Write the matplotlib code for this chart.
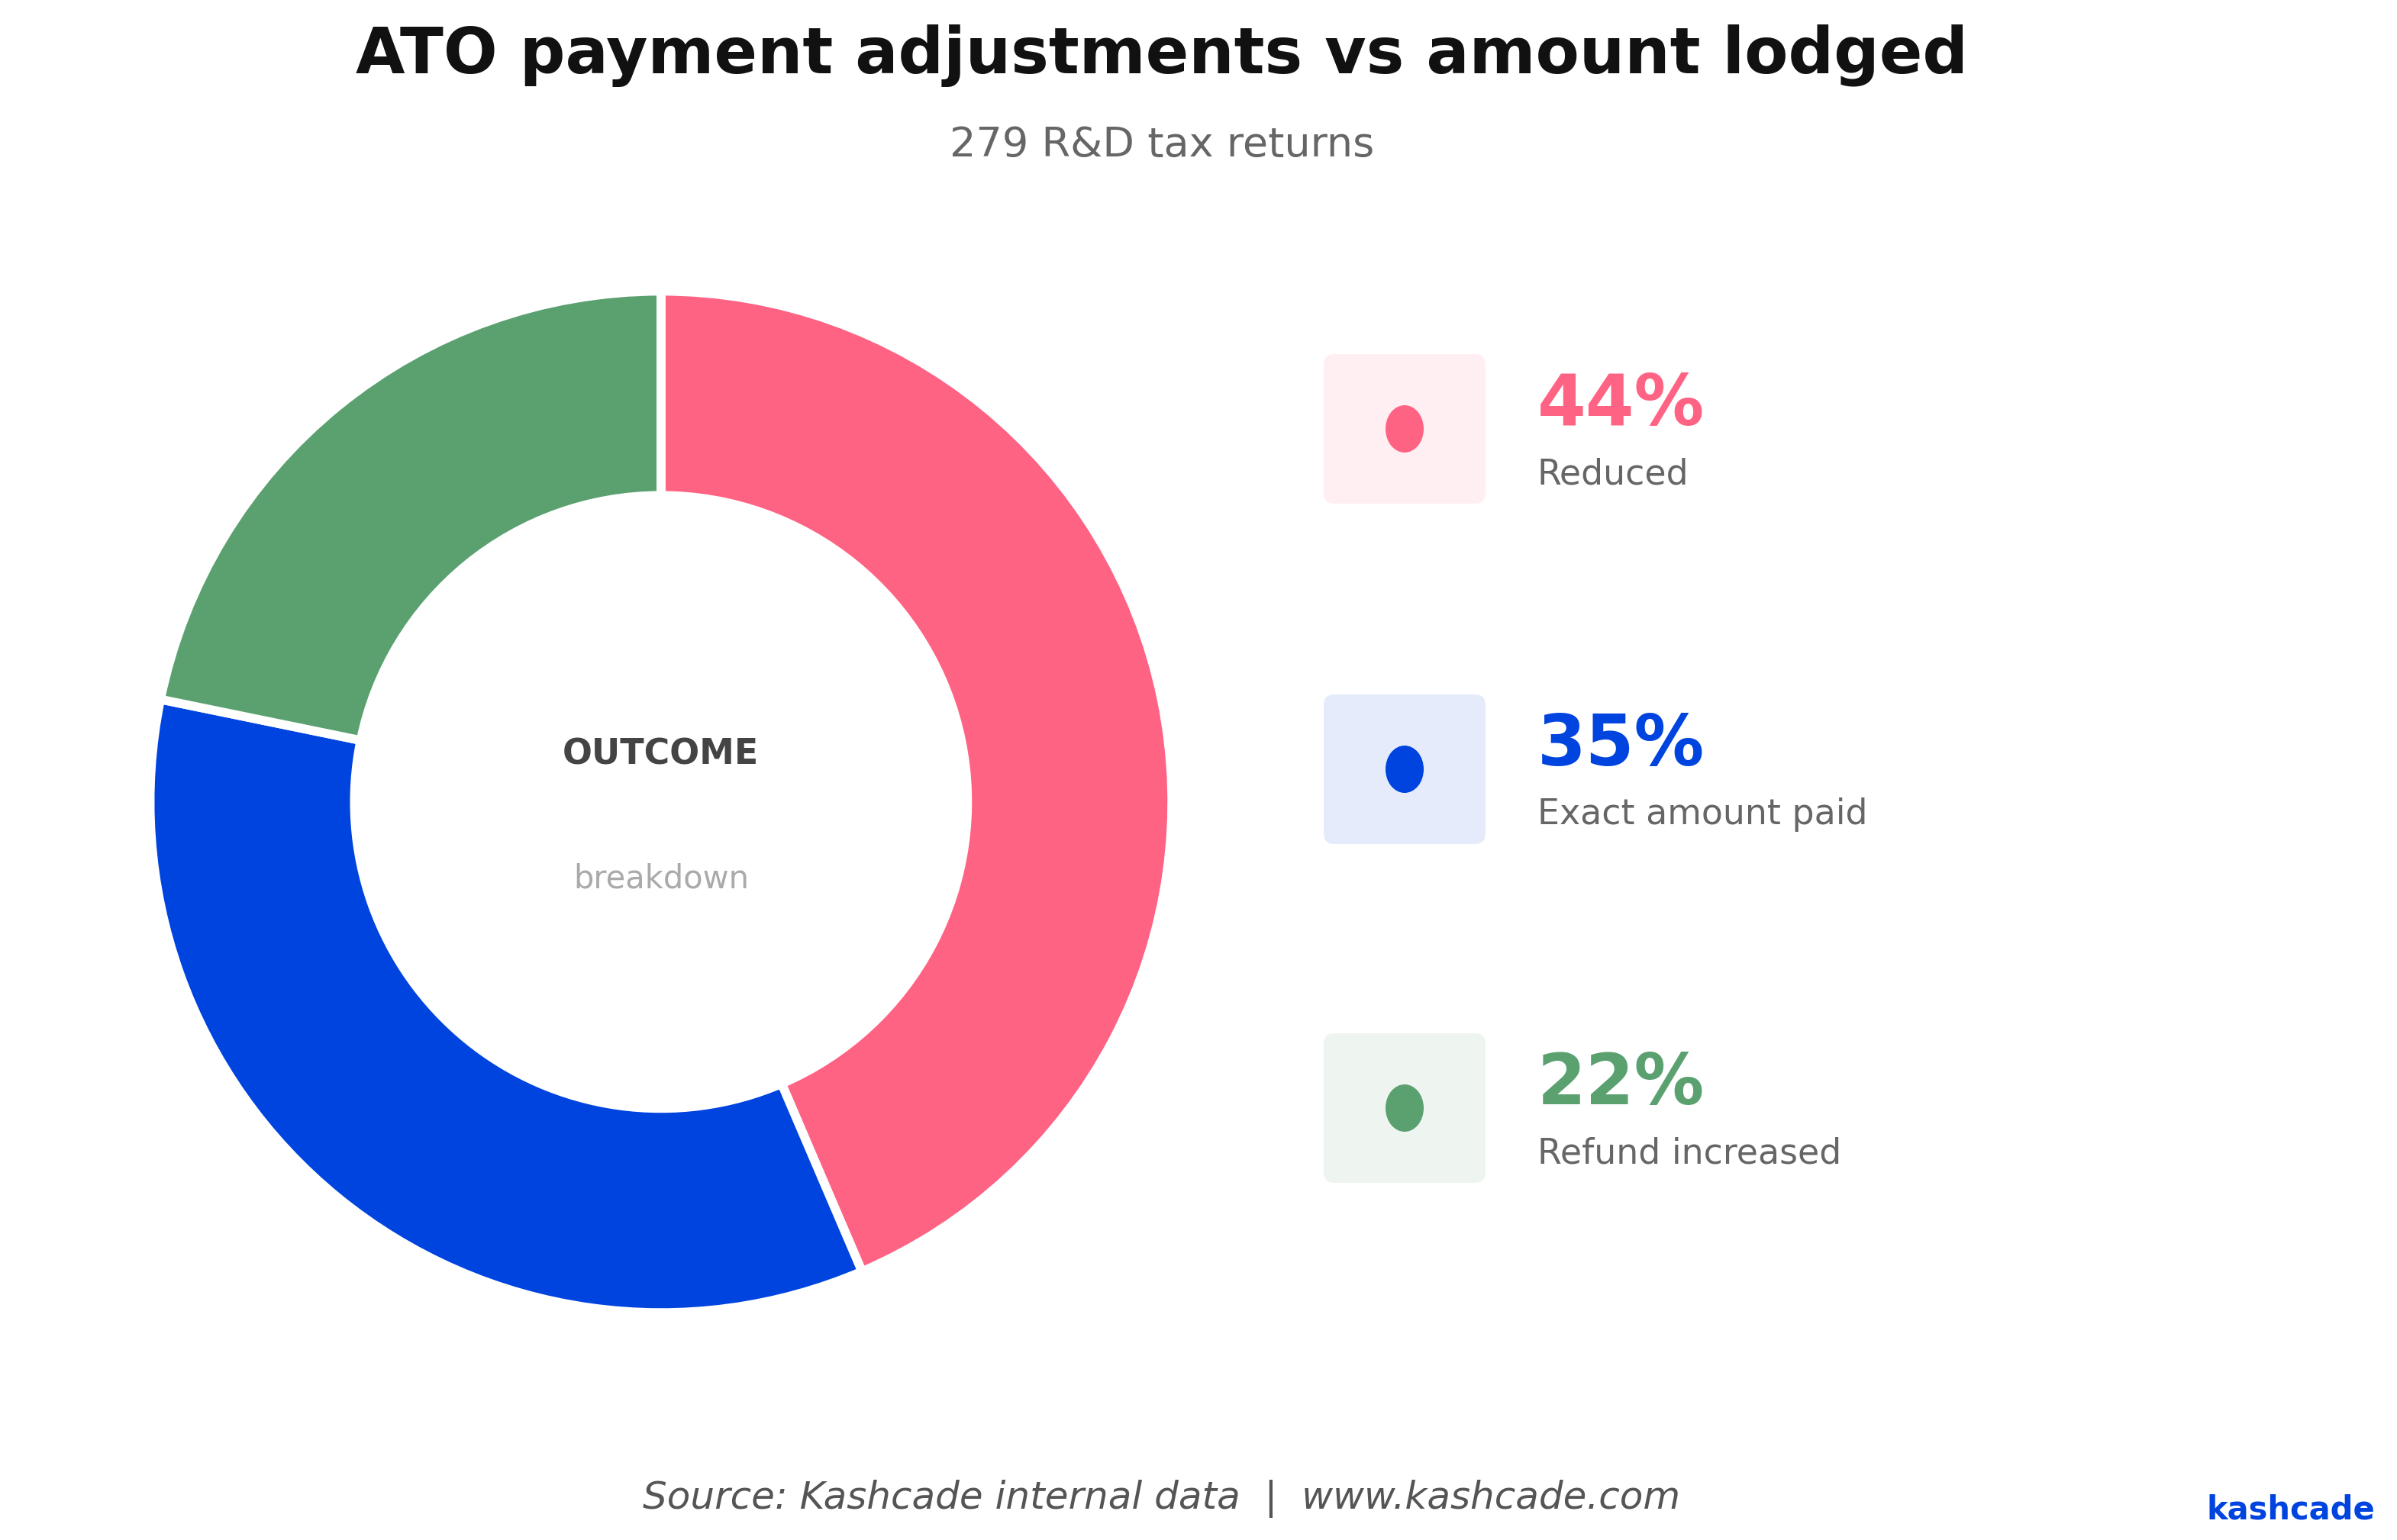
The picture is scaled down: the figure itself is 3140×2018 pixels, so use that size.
import matplotlib
matplotlib.use("Agg")
import matplotlib.pyplot as plt
from matplotlib.patches import FancyBboxPatch, Ellipse

# data
labels = ["Reduced", "Exact amount paid", "Refund increased"]
shares = [44, 35, 22]
colors = ["#FF6384", "#0044E0", "#5BA170"]

title = "ATO payment adjustments vs amount lodged"
subtitle = "279 R&D tax returns"
source = "Source: Kashcade internal data  |  www.kashcade.com"

W, H = 3140, 2018
fig = plt.figure(figsize=(W / 300, H / 300), dpi=300)
fig.patch.set_facecolor("white")

# donut
ax = fig.add_axes([0.0643, 0.1516, 0.4229, 0.658])
ax.pie(shares, colors=colors, startangle=90, counterclock=False,
       radius=1.0, wedgeprops=dict(width=0.40, edgecolor="white", linewidth=2.8))
ax.set_xlim(-0.992, 0.992)
ax.set_ylim(-0.988, 0.996)
ax.set_aspect("equal")
ax.axis("off")
ax.text(0, 0.093, "OUTCOME", ha="center", va="center", fontsize=11,
        fontweight="bold", color="#444444")
ax.text(0, -0.15, "breakdown", ha="center", va="center", fontsize=10,
        color="#aaaaaa")

# legend cards, drawn in pixel space
lg = fig.add_axes([0, 0, 1, 1])
lg.set_xlim(0, W)
lg.set_ylim(H, 0)
lg.axis("off")
box_x, box_w, box_h = 1734, 212, 196
row_top = [464, 910, 1354]
for i in range(len(labels)):
    top = row_top[i]
    card = FancyBboxPatch((box_x, top), box_w, box_h,
                          boxstyle="round,pad=0,rounding_size=14",
                          facecolor=colors[i], alpha=0.1, edgecolor="none")
    lg.add_patch(card)
    lg.add_patch(Ellipse((box_x + box_w / 2, top + box_h / 2), 50, 62,
                         facecolor=colors[i], edgecolor="none"))
    lg.text(2014, top + 67, f"{shares[i]}%", ha="left", va="center",
            fontsize=22, fontweight="bold", color=colors[i])
    lg.text(2014, top + 158, labels[i], ha="left", va="center",
            fontsize=11, color="#666666")

# titles and footer
fig.text(0.4847, 0.964, title, ha="center", va="center", fontsize=20,
         fontweight="bold", color="#111111")
fig.text(0.4847, 0.906, subtitle, ha="center", va="center", fontsize=13,
         color="#666666")
fig.text(0.4847, 0.027, source, ha="center", va="center", fontsize=12,
         style="italic", color="#555555")
fig.text(0.991, 0.0135, "kashcade", ha="right", va="baseline", fontsize=10,
         fontweight="bold", color="#0044E0")

fig.savefig("out.png", dpi=300, facecolor="white")
